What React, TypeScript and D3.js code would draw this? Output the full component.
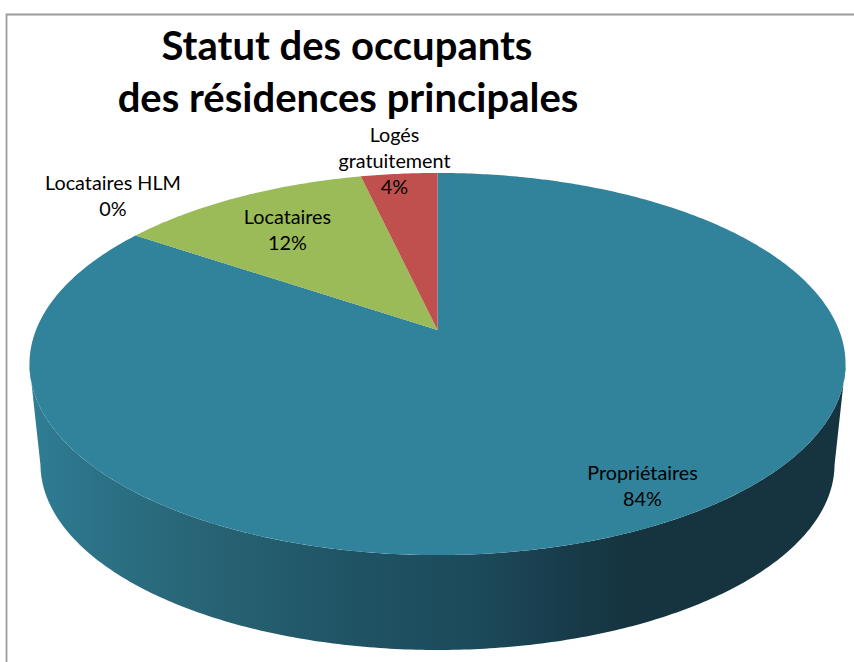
import React from "react";
import * as d3 from "d3";

const categories = ["Propriétaires", "Locataires HLM", "Locataires", "Logés gratuitement"];
const shares = [84.49, 0, 11.91, 3.6];
const sliceColors = ["#31829b", "#31829b", "#9bbb59", "#c0504d"];
const titleLines = ["Statut des occupants", "des résidences principales"];
const FONT = "Lato, Carlito, sans-serif";

// Perspective projection of the pie disc: v runs from far (-1) to near (+1).
const K = 0.178;
const project = (cx: number, cy: number, b: number, a: number) => (ang: number): [number, number] => {
  const u = Math.sin(ang);
  const v = -Math.cos(ang);
  const w = 1 - K * v;
  return [cx + (b * u) / w, cy + (a * v) / w];
};
const apex: [number, number] = [437.5, 330];
const topFace = project(apex[0], apex[1], 401.5, 185);
const baseFace = project(apex[0], 431, 390.7, 180);

const line = d3.line<[number, number]>();
const samples = (a0: number, a1: number) => {
  const n = Math.max(2, Math.ceil(Math.abs(a1 - a0) * 90));
  return d3.range(n + 1).map((i) => a0 + ((a1 - a0) * i) / n);
};

const arcs = d3.pie<number>().sort(null)(shares);

// silhouette of the side wall: between the leftmost and rightmost points of each ellipse
const all = samples(0, 2 * Math.PI);
const extreme = (f: (a: number) => [number, number]) => ({
  right: d3.greatest(all, (a) => f(a)[0]) as number,
  left: d3.least(all, (a) => f(a)[0]) as number,
});
const te = extreme(topFace);
const be = extreme(baseFace);
const sidePath =
  (line(samples(te.right, te.left).map(topFace)) as string) +
  "L" +
  (line(samples(be.left, be.right).map(baseFace)) as string).slice(1) +
  "Z";

const slicePath = (a0: number, a1: number) =>
  (line([apex, ...samples(a0, a1).map(topFace)]) as string) + "Z";

const sideStops: [number, string][] = [
  [0, "#2f7d95"],
  [0.08, "#2c7287"],
  [0.2, "#286576"],
  [0.4, "#1f5364"],
  [0.55, "#1c4a5a"],
  [0.66, "#183b4a"],
  [0.73, "#15343f"],
  [1, "#15343f"],
];

type Lbl = { lines: string[]; x: number; y: number };
const labels: Lbl[] = [
  { lines: [categories[0], "84%"], x: 642.5, y: 480 },
  { lines: [categories[1], "0%"], x: 113, y: 190 },
  { lines: [categories[2], "12%"], x: 287.5, y: 224 },
  { lines: ["Logés", "gratuitement", "4%"], x: 394.5, y: 141.5 },
];

export default function App() {
  return (
    <svg
      width={854}
      height={662}
      style={{ position: "absolute", left: 0, top: 0, display: "block", background: "#fff" }}
    >
      <defs>
        <linearGradient id="side" x1="30" x2="846" y1="0" y2="0" gradientUnits="userSpaceOnUse">
          {sideStops.map(([o, c]) => (
            <stop key={o} offset={o} stopColor={c} />
          ))}
        </linearGradient>
      </defs>
      <path d="M6.5,662V14.5H854" fill="none" stroke="#9c9c9c" strokeWidth={1.8} />
      <path d={sidePath} fill="url(#side)" />
      {arcs.map((d, i) =>
        d.endAngle > d.startAngle ? (
          <path key={i} fill={sliceColors[i]} d={slicePath(d.startAngle, d.endAngle)} />
        ) : null,
      )}
      <g fontFamily={FONT} fontWeight={700} fontSize={40} fill="#000" textAnchor="middle">
        <text x={347} y={60}>{titleLines[0]}</text>
        <text x={348} y={112}>{titleLines[1]}</text>
      </g>
      <g fontFamily={FONT} fontSize={19.8} fill="#000" textAnchor="middle">
        {labels.map((l, i) =>
          l.lines.map((t, j) => (
            <text key={i + "-" + j} x={l.x} y={l.y + j * 26}>{t}</text>
          )),
        )}
      </g>
    </svg>
  );
}
